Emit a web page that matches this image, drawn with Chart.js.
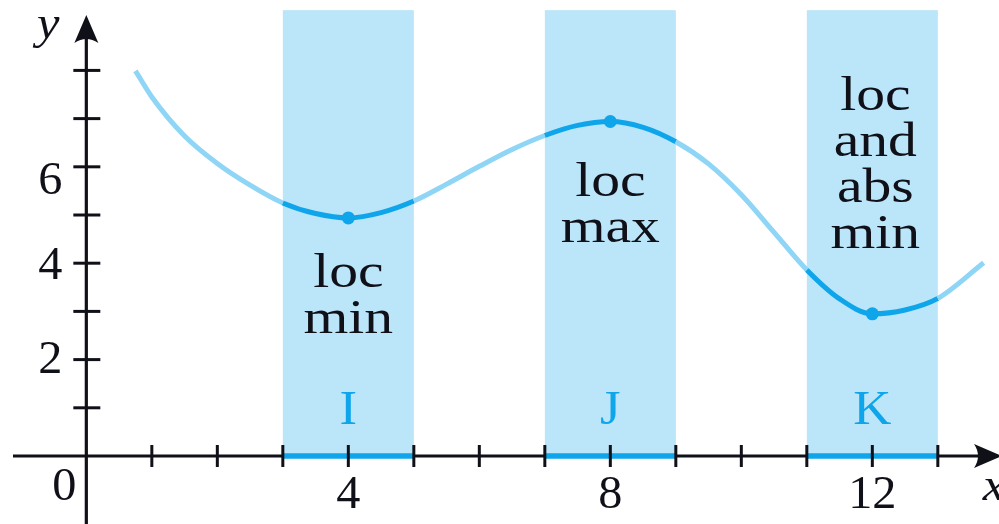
<!DOCTYPE html>
<html>
<head>
<meta charset="utf-8">
<script src="https://cdn.jsdelivr.net/npm/chart.js@4.4.1/dist/chart.umd.min.js"></script>
<style>
html,body{margin:0;padding:0;background:#fff;}
#wrap{width:999px;height:524px;position:relative;}
.pre{font-family:"Liberation Serif";position:absolute;left:-9999px;top:0;}
</style>
</head>
<body>
<span class="pre">loc</span><span class="pre" style="font-style:italic">xy</span>
<div id="wrap"><canvas id="c"></canvas></div>
<script>
// ---- data ----
const curveX = [0.75, 1, 1.5, 2, 2.5, 3, 3.5, 4, 4.5, 5, 5.5, 6, 6.5, 7, 7.5, 8, 8.5, 9, 9.5, 10, 10.5, 11, 11.5, 12, 12.5, 13, 13.7];
const curveY = [7.99, 7.45, 6.64, 6.07, 5.62, 5.25, 5.03, 4.94, 5.05, 5.29, 5.64, 6.01, 6.36, 6.65, 6.86, 6.94, 6.82, 6.52, 6.06, 5.42, 4.64, 3.86, 3.26, 2.95, 3.03, 3.27, 4.01];
const extremaX = [4, 8, 12];
const extremaY = [4.94, 6.94, 2.95];
const bandStart = [3, 7, 11];
const bandEnd = [5, 9, 13];
const bandLabels = ["I", "J", "K"];
const bandNotes = [["loc", "min"], ["loc", "max"], ["loc", "and", "abs", "min"]];
const xTickValues = [1,2,3,4,5,6,7,8,9,10,11,12,13];
const xTickLabels = ["4", "8", "12"];
const xTickLabelValues = [4, 8, 12];
const yTickValues = [1,2,3,4,5,6,7,8];
const yTickLabels = ["2", "4", "6"];
const yTickLabelValues = [2, 4, 6];

// ---- styles ----
const LIGHT = '#8fd5f6';
const DARK = '#0ea5ea';
const BAND = '#bbe5f9';
const INK = '#101018';
const SERIF = '"Liberation Serif", "Times New Roman", Times, serif';

function inBand(v){
  for(let i=0;i<bandStart.length;i++){ if(v>bandStart[i] && v<bandEnd[i]) return true; }
  return false;
}

const points = curveX.map((x,i)=>({x:x, y:curveY[i]}));
const markers = extremaX.map((x,i)=>({x:x, y:extremaY[i]}));

function stretchText(ctx, txt, cx, by, sx){
  ctx.save();
  ctx.translate(cx, by);
  ctx.scale(sx, 1);
  ctx.fillText(txt, 0, 0);
  ctx.restore();
}

const decor = {
  id:'decor',
  beforeDatasetsDraw(chart){
    const {ctx, scales:{x, y}} = chart;
    ctx.save();
    ctx.fillStyle = BAND;
    const top = y.getPixelForValue(9.25), bot = y.getPixelForValue(0);
    for(let i=0;i<bandStart.length;i++){
      const a = x.getPixelForValue(bandStart[i]), b = x.getPixelForValue(bandEnd[i]);
      ctx.fillRect(a, top, b-a, bot-top);
    }
    ctx.restore();
  },
  afterDatasetsDraw(chart){
    const {ctx, scales:{x, y}} = chart;
    const x0 = x.getPixelForValue(0), y0 = y.getPixelForValue(0);
    ctx.save();
    ctx.strokeStyle = INK; ctx.fillStyle = INK; ctx.lineWidth = 3.2;
    // x axis
    const xl = x.getPixelForValue(-1.12), xr = x.getPixelForValue(13.98);
    ctx.beginPath(); ctx.moveTo(xl, y0); ctx.lineTo(xr-20, y0); ctx.stroke();
    // y axis
    const yb = y.getPixelForValue(-1.45), yt = y.getPixelForValue(9.15);
    ctx.beginPath(); ctx.moveTo(x0, yb); ctx.lineTo(x0, yt+20); ctx.stroke();
    // blue band segments on x axis
    ctx.strokeStyle = DARK; ctx.lineWidth = 5.5;
    for(let i=0;i<bandStart.length;i++){
      ctx.beginPath();
      ctx.moveTo(x.getPixelForValue(bandStart[i]), y0);
      ctx.lineTo(x.getPixelForValue(bandEnd[i]), y0);
      ctx.stroke();
    }
    // ticks
    ctx.strokeStyle = INK; ctx.lineWidth = 3;
    xTickValues.forEach(v=>{
      const p = x.getPixelForValue(v);
      ctx.beginPath(); ctx.moveTo(p, y0-11); ctx.lineTo(p, y0+11); ctx.stroke();
    });
    yTickValues.forEach(v=>{
      const p = y.getPixelForValue(v);
      ctx.beginPath(); ctx.moveTo(x0-13, p); ctx.lineTo(x0+14, p); ctx.stroke();
    });
    // arrows
    ctx.beginPath();
    ctx.moveTo(x0, yt);
    ctx.lineTo(x0-12, yt+28);
    ctx.quadraticCurveTo(x0, yt+20, x0+12, yt+28);
    ctx.closePath(); ctx.fill();
    ctx.beginPath();
    ctx.moveTo(xr, y0);
    ctx.lineTo(xr-28, y0-12);
    ctx.quadraticCurveTo(xr-20, y0, xr-28, y0+12);
    ctx.closePath(); ctx.fill();
    // tick labels
    ctx.font = '46px ' + SERIF;
    ctx.textAlign = 'center'; ctx.textBaseline = 'alphabetic';
    xTickLabels.forEach((t,i)=>{
      stretchText(ctx, t, x.getPixelForValue(xTickLabelValues[i]), y.getPixelForValue(-1.08), 1.05);
    });
    const yLabOff = [13, 16, 27];
    yTickLabels.forEach((t,i)=>{
      stretchText(ctx, t, x0-36, y.getPixelForValue(yTickLabelValues[i])+yLabOff[i], 1.05);
    });
    stretchText(ctx, '0', x0-22, y.getPixelForValue(-0.92), 1.05);
    // axis titles
    ctx.font = 'italic 46px ' + SERIF;
    stretchText(ctx, 'y', x0-38, y.getPixelForValue(8.67), 1.1);
    stretchText(ctx, 'x', xr-8, y.getPixelForValue(-0.92), 1.1);
    // band letters
    ctx.fillStyle = DARK;
    ctx.font = '48px ' + SERIF;
    bandLabels.forEach((t,i)=>{
      stretchText(ctx, t, x.getPixelForValue((bandStart[i]+bandEnd[i])/2), y.getPixelForValue(0.66), 1.1);
    });
    // notes
    ctx.fillStyle = INK;
    const noteBase = [3.51, 5.39, 7.18];
    bandNotes.forEach((lines,i)=>{
      const cx = x.getPixelForValue((bandStart[i]+bandEnd[i])/2) + (i===2?3:0);
      const by = y.getPixelForValue(noteBase[i]);
      lines.forEach((ln,j)=>{ stretchText(ctx, ln, cx, by + j*46, 1.2); });
    });
    ctx.restore();
  }
};

function build(){
  new Chart(document.getElementById('c'), {
    type:'line',
    data:{
      datasets:[
        {
          type:'scatter',
          data: markers,
          pointRadius: 6.5,
          pointHoverRadius: 6.5,
          pointBackgroundColor: DARK,
          pointBorderWidth: 0,
          showLine:false,
          order: 0
        },
        {
          data: points,
          borderColor: LIGHT,
          borderWidth: 5,
          pointRadius: 0,
          fill: false,
          cubicInterpolationMode: 'monotone',
          borderCapStyle: 'butt',
          segment:{
            borderColor: c => inBand((c.p0.parsed.x + c.p1.parsed.x)/2) ? DARK : LIGHT
          },
          order: 1
        }
      ]
    },
    options:{
      responsive:true,
      maintainAspectRatio:false,
      animation:false,
      events:[],
      layout:{padding:0, autoPadding:false},
      plugins:{legend:{display:false}, tooltip:{enabled:false}},
      scales:{
        x:{type:'linear', min:-1.318, max:13.934, display:false},
        y:{type:'linear', min:-1.411, max:9.461, display:false}
      }
    },
    plugins:[decor]
  });
}

Promise.all([
  document.fonts.load('48px "Liberation Serif"'),
  document.fonts.load('italic 46px "Liberation Serif"')
]).then(build, build);
</script>
</body>
</html>
